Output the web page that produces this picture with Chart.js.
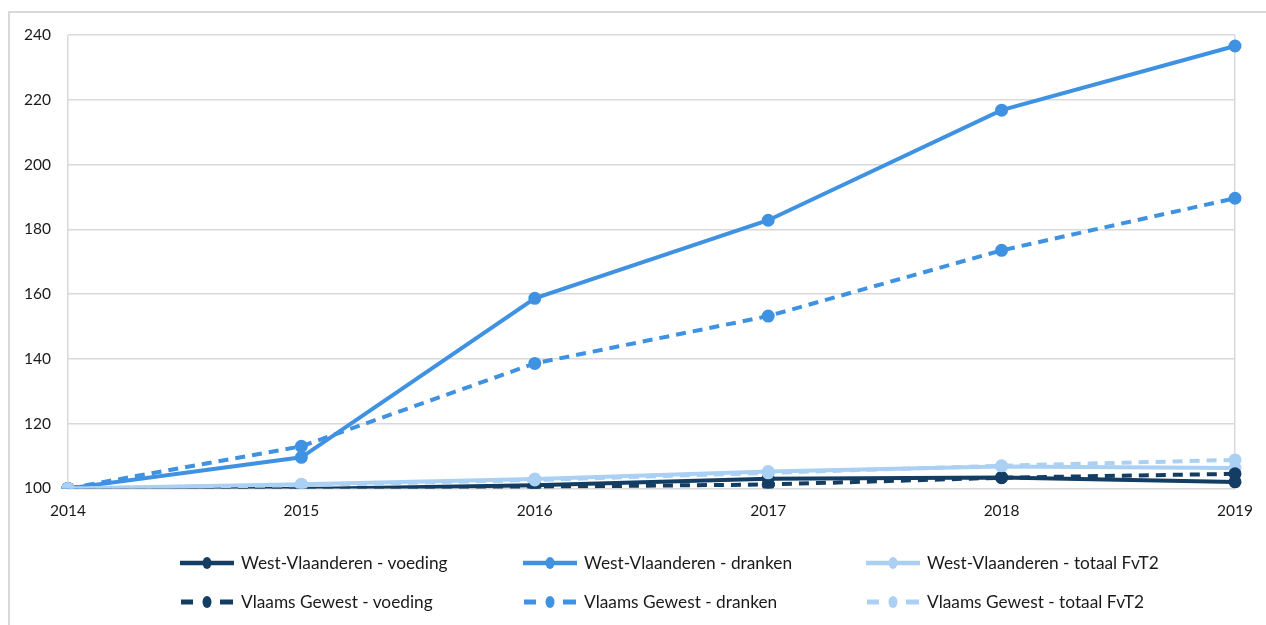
<!DOCTYPE html>
<html>
<head>
<meta charset="utf-8">
<script src="https://cdn.jsdelivr.net/npm/chart.js@4/dist/chart.umd.min.js"></script>
<style>
  html, body { margin:0; padding:0; background:#fff; overflow:hidden; }
  #wrap { position:relative; width:1266px; height:625px; }
  #frame { position:absolute; left:8px; top:11px; width:1300px; height:700px; border:2px solid #d9d9d9; box-sizing:border-box; }
  #c { position:absolute; left:0; top:0; }
  #legend { position:absolute; left:180px; top:543px; font-family: Lato, "Open Sans", sans-serif; font-size:17.3px; color:#1a1a1a; }
  .row { display:flex; height:39px; align-items:center; }
  .item { width:343px; display:flex; align-items:center; }
  .item svg { margin-right:6px; }
</style>
</head>
<body>
<div id="wrap">
  <div id="frame"></div>
  <canvas id="c" width="1266" height="625"></canvas>
  <div id="legend"></div>
</div>
<script>
const years = ["2014", "2015", "2016", "2017", "2018", "2019"];
const yTicks = [100, 120, 140, 160, 180, 200, 220, 240];

const wvVoeding = [100, 99.8, 101.0, 103.0, 103.4, 102.0];
const wvDranken = [100, 109.6, 158.7, 182.8, 216.8, 236.6];
const wvTotaal  = [100, 101.3, 102.9, 105.2, 106.8, 106.3];
const vgVoeding = [100, 99.7, 100.5, 101.2, 103.3, 104.5];
const vgDranken = [100, 113.0, 138.6, 153.2, 173.5, 189.6];
const vgTotaal  = [100, 101.0, 102.6, 104.8, 107.0, 108.8];

const seriesNames = [
  "West-Vlaanderen - voeding", "West-Vlaanderen - dranken", "West-Vlaanderen - totaal FvT2",
  "Vlaams Gewest - voeding", "Vlaams Gewest - dranken", "Vlaams Gewest - totaal FvT2"
];
const seriesData = [wvVoeding, wvDranken, wvTotaal, vgVoeding, vgDranken, vgTotaal];

const DARK = "#133d63", MID = "#3f92e2", LIGHT = "#aad0f3";
const colors = [DARK, MID, LIGHT, DARK, MID, LIGHT];
const dashed = [false, false, false, true, true, true];
const DASH = [10, 7];

const datasets = seriesData.map((d, i) => ({
  label: seriesNames[i],
  data: d,
  borderColor: colors[i],
  backgroundColor: colors[i],
  pointBackgroundColor: colors[i],
  pointBorderColor: colors[i],
  borderWidth: 4,
  borderDash: dashed[i] ? DASH : [],
  pointRadius: 4.5,
  pointHoverRadius: 4.5,
  tension: 0,
  order: 6 - i
}));

new Chart(document.getElementById("c"), {
  type: "line",
  data: { labels: years, datasets },
  options: {
    responsive: false,
    animation: false,
    layout: { padding: { left: 7, right: 29, top: 35, bottom: 92 } },
    plugins: { legend: { display: false }, tooltip: { enabled: false } },
    scales: {
      x: {
        offset: false,
        grid: {
          drawTicks: false,
          color: ctx => (ctx.index === 0 || ctx.index === years.length - 1) ? "#d9d9d9" : "rgba(0,0,0,0)",
          lineWidth: 1.5
        },
        border: { display: false },
        ticks: { padding: 13, color: "#1a1a1a", font: { family: "Lato, 'Open Sans', sans-serif", size: 15.5 }, maxRotation: 0 }
      },
      y: {
        min: 100, max: 240,
        afterBuildTicks: s => { s.ticks = yTicks.map(v => ({ value: v })); },
        grid: { drawTicks: false, color: "#d9d9d9", lineWidth: 1.5 },
        border: { display: false },
        ticks: { padding: 17, color: "#1a1a1a", font: { family: "Lato, 'Open Sans', sans-serif", size: 15.5 } }
      }
    }
  }
});

// HTML legend built from the series arrays
const legend = document.getElementById("legend");
for (let r = 0; r < 2; r++) {
  const row = document.createElement("div");
  row.className = "row";
  for (let c = 0; c < 3; c++) {
    const i = r * 3 + c;
    const item = document.createElement("div");
    item.className = "item";
    const col = colors[i];
    const line = dashed[i]
      ? `<line x1="1" y1="7" x2="13" y2="7" stroke="${col}" stroke-width="5"/><line x1="40" y1="7" x2="53" y2="7" stroke="${col}" stroke-width="5"/>`
      : `<line x1="0" y1="7" x2="54" y2="7" stroke="${col}" stroke-width="4.5"/>`;
    item.innerHTML = `<svg width="55" height="14">${line}<ellipse cx="27" cy="7" rx="4.5" ry="6" fill="${col}"/></svg><span>${seriesNames[i]}</span>`;
    row.appendChild(item);
  }
  legend.appendChild(row);
}
</script>
</body>
</html>
